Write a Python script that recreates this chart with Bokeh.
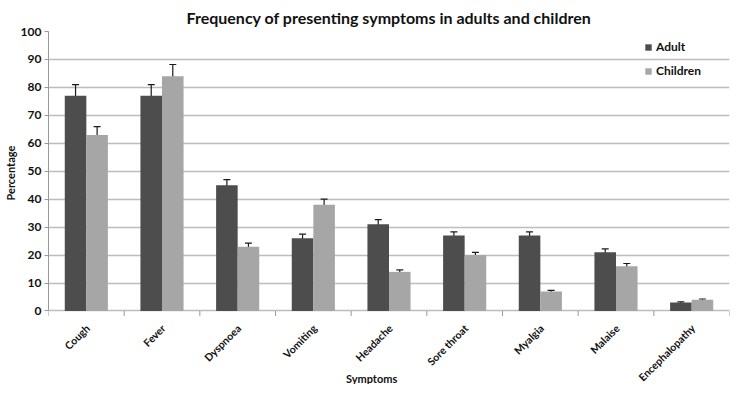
import numpy as np
from bokeh.plotting import figure
from bokeh.models import (ColumnDataSource, Whisker, TeeHead, FixedTicker, Range1d,
                          Legend, LegendItem, Title)
from bokeh.core.properties import value
from bokeh.embed import file_html
from bokeh.resources import INLINE

categories = ["Cough", "Fever", "Dyspnoea", "Vomiting", "Headache",
              "Sore throat", "Myalgia", "Malaise", "Encephalopathy"]
adult = [77, 77, 45, 26, 31, 27, 27, 21, 3]
adult_err = [4, 4, 2, 1.5, 1.7, 1.3, 1.3, 1.2, 0.3]
children = [63, 84, 23, 38, 14, 20, 7, 16, 4]
children_err = [3, 4.2, 1.3, 2, 0.7, 1, 0.4, 1, 0.3]
y_ticks = list(range(0, 101, 10))

FONT = "Lato"
ADULT_C = "#4d4d4d"
CHILD_C = "#a6a6a6"
TXT_C = "#111111"
AXIS_C = "#999999"
BW = 0.285

n = len(categories)
idx = np.arange(n) + 0.5
bounds_x = np.arange(n + 1)
src_a = ColumnDataSource(dict(x=idx - BW / 2, top=adult,
                              lo=np.array(adult) - np.array(adult_err),
                              hi=np.array(adult) + np.array(adult_err)))
src_c = ColumnDataSource(dict(x=idx + BW / 2, top=children,
                              lo=np.array(children) - np.array(children_err),
                              hi=np.array(children) + np.array(children_err)))
src_lab = ColumnDataSource(dict(x=idx + 0.02, y=[-5.5] * n, text=categories))

p = figure(width=731, height=384, output_backend="svg", toolbar_location=None,
           x_range=Range1d(0, n), y_range=Range1d(-26.3, 100),
           min_border_left=20, min_border_right=2, min_border_top=24, min_border_bottom=0)

p.title.text = "Frequency of presenting symptoms in adults and children"
p.title.align = "center"
p.title.text_font = FONT
p.title.text_font_size = "16px"
p.title.text_font_style = "bold"
p.title.text_color = TXT_C
p.title.standoff = 10

ra = p.vbar(x="x", top="top", width=BW, source=src_a, fill_color=ADULT_C, line_color=None)
rc = p.vbar(x="x", top="top", width=BW, source=src_c, fill_color=CHILD_C, line_color=None)

for s in (src_a, src_c):
    w = Whisker(base="x", lower="lo", upper="hi", source=s,
                line_color="#1a1a1a", line_width=1.2,
                upper_head=TeeHead(size=7, line_color="#1a1a1a", line_width=1.2),
                lower_head=TeeHead(size=7, line_color="#1a1a1a", line_width=1.2))
    p.add_layout(w)

# category axis: zero line is the base grid line; boundary tick marks and rotated labels
p.segment(x0=bounds_x, x1=bounds_x, y0=[0] * (n + 1), y1=[-1.8] * (n + 1),
          line_color=AXIS_C, line_width=1)
p.text(x="x", y="y", text="text", source=src_lab, angle=np.pi / 4,
       text_align="right", text_baseline="middle",
       text_font=value(FONT), text_font_style="bold", text_font_size="10.5px",
       text_color=TXT_C)
p.text(x=[n / 2 - 0.23], y=[-24.1], text=["Symptoms"], text_align="center",
       text_baseline="middle", text_font=value(FONT), text_font_style="bold",
       text_font_size="11px", text_color=TXT_C)

p.xaxis.visible = False

ya = p.yaxis[0]
ya.bounds = (0, 100)
ya.ticker = FixedTicker(ticks=y_ticks)
ya.axis_line_color = AXIS_C
ya.major_tick_line_color = AXIS_C
ya.major_tick_out = 4
ya.major_tick_in = 0
ya.minor_tick_line_color = None
ya.major_label_standoff = 3
ya.major_label_text_font = FONT
ya.major_label_text_font_style = "bold"
ya.major_label_text_font_size = "12px"
ya.major_label_text_color = TXT_C

ylab = Title(text="Percentage", align="left", offset=184, standoff=2,
             text_font=FONT, text_font_style="bold", text_font_size="11px",
             text_color=TXT_C)
p.add_layout(ylab, "left")

p.xgrid.grid_line_color = None
p.ygrid.ticker = FixedTicker(ticks=y_ticks)
p.ygrid.grid_line_color = "#bdbdbd"
p.ygrid.grid_line_width = 1.5
p.outline_line_color = None

legend = Legend(items=[LegendItem(label="Adult", renderers=[ra]),
                       LegendItem(label="Children", renderers=[rc])],
                location=(596, 306), glyph_width=8, glyph_height=8,
                label_text_font=FONT, label_text_font_style="bold",
                label_text_font_size="12px", label_text_color=TXT_C,
                spacing=9, border_line_color=None, background_fill_alpha=0,
                label_standoff=4, padding=4)
p.add_layout(legend)

open("out.html", "w").write(file_html(p, INLINE))
